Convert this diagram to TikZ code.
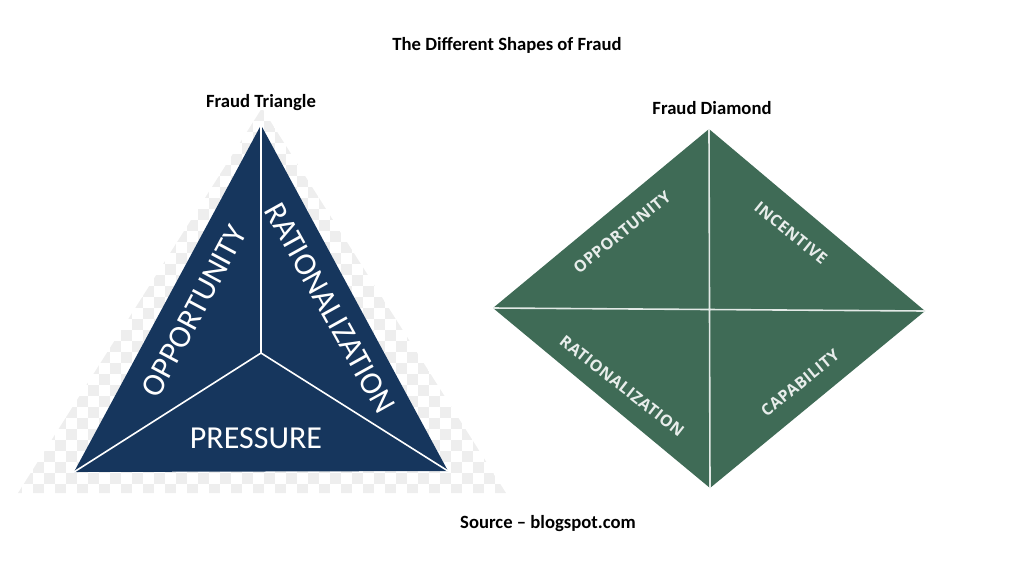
\documentclass[tikz,border=0pt]{standalone}
\usepackage{fontspec}
\setmainfont{Carlito}
\newfontfamily\diafont[LetterSpace=3]{Open Sans}
\definecolor{navy}{RGB}{22,54,93}
\definecolor{fgreen}{RGB}{63,107,86}
\definecolor{checker}{RGB}{238,238,238}
\begin{document}
\begin{tikzpicture}[x=0.75pt,y=-0.75pt,
		heading/.style={font=\fontsize{14}{16}\selectfont\bfseries},
		trilabel/.style={text=white,font=\fontsize{24}{27}\selectfont},
		dialabel/.style={text=white!88!fgreen,font=\diafont\fontsize{12}{14}\selectfont\bfseries},
		divider/.style={white,line width=1.2pt}]
		\useasboundingbox (0,0) rectangle (1024,576);
		\node[heading] (title) at (507,45) {The Different Shapes of Fraud};
		\node[heading] (trihead) at (261,103) {Fraud Triangle};
		\node[heading] (diahead) at (712,108) {Fraud Diamond};
		\node[heading] (source) at (548,524) {Source -- blogspot.com};
		\begin{scope}
			\clip (18,493) -- (262,108) -- (506,493) -- cycle;
			\foreach \i in {0,22,...,506} \foreach \j in {99,121,...,495} {
				\fill[checker] (\i,\j) rectangle +(11,11);
				\fill[checker] (\i+11,\j+11) rectangle +(11,11);
			}
		\end{scope}
		\coordinate (apex) at (261,125);
		\coordinate (tl) at (74,472);
		\coordinate (tr) at (448,471);
		\coordinate (tc) at (261,353);
		\fill[navy] (apex) -- (tl) -- (tr) -- cycle;
		\draw[divider] (apex) -- (tc) (tl) -- (tc) -- (tr);
		\node[trilabel,rotate=62] (opp) at (194,311) {OPPORTUNITY};
		\node[trilabel,rotate=-61] (rat) at (330,308) {RATIONALIZATION};
		\node[trilabel] (pre) at (256,438) {PRESSURE};
		\coordinate (dt) at (709,129);
		\coordinate (dl) at (493,308);
		\coordinate (dr) at (925,311);
		\coordinate (db) at (710,488);
		\fill[fgreen] (dt) -- (dr) -- (db) -- (dl) -- cycle;
		\draw[divider,white!85!fgreen] (dt) -- (db) (dl) -- (dr);
		\node[dialabel,rotate=39] (dopp) at (622,232) {OPPORTUNITY};
		\node[dialabel,rotate=-39] (dinc) at (791,233) {INCENTIVE};
		\node[dialabel,rotate=-38] (drat) at (622,386) {RATIONALIZATION};
		\node[dialabel,rotate=39] (dcap) at (800,383) {CAPABILITY};
	\end{tikzpicture}
\end{document}
